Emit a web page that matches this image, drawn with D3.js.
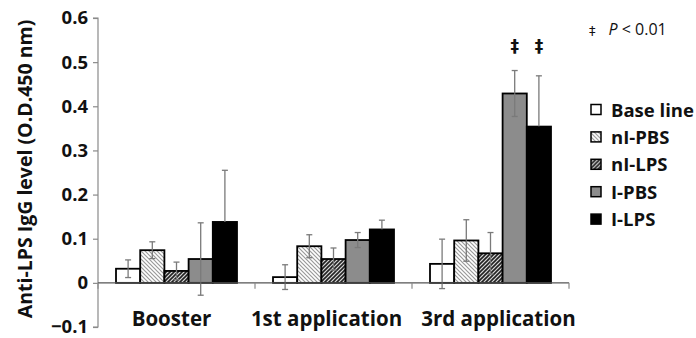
<!DOCTYPE html>
<html>
<head>
<meta charset="utf-8">
<script src="https://cdn.jsdelivr.net/npm/d3@7"></script>
<style>
  body { margin: 0; background: #fff; }
  svg { display: block; }
</style>
</head>
<body>
<div id="chart"></div>
<script>
// data
const categories = ['Booster', '1st application', '3rd application'];
const groups = ['Base line', 'nI-PBS', 'nI-LPS', 'I-PBS', 'I-LPS'];
const means = [
  [0.032, 0.074, 0.027, 0.054, 0.138],
  [0.013, 0.083, 0.054, 0.097, 0.121],
  [0.043, 0.096, 0.067, 0.429, 0.354]
];
const errors = [
  [0.020, 0.019, 0.020, 0.082, 0.117],
  [0.028, 0.026, 0.025, 0.017, 0.021],
  [0.056, 0.047, 0.047, 0.052, 0.115]
];
const yTicks = [-0.1, 0, 0.1, 0.2, 0.3, 0.4, 0.5, 0.6];
// groups flagged with ‡ (P < 0.01) in each category
const significant = [[], [], ['I-PBS', 'I-LPS']];

const W = 696, H = 338;
const font = "'Open Sans', sans-serif";
// small horizontal nudges of the category labels, as in the original figure
const labelShift = [-5, -7, 8];

const svg = d3.select('#chart').append('svg')
  .attr('width', W)
  .attr('height', H);

const defs = svg.append('defs');

// light hatch for nI-PBS
const p1 = defs.append('pattern')
  .attr('id', 'hatchLight')
  .attr('patternUnits', 'userSpaceOnUse')
  .attr('width', 4).attr('height', 4);
p1.append('rect').attr('width', 4).attr('height', 4).attr('fill', '#fff');
p1.append('path')
  .attr('d', 'M0,0 L4,4 M-1,3 L1,5 M3,-1 L5,1')
  .attr('stroke', '#9a9a9a').attr('stroke-width', 1.2);

// dark hatch for nI-LPS
const p2 = defs.append('pattern')
  .attr('id', 'hatchDark')
  .attr('patternUnits', 'userSpaceOnUse')
  .attr('width', 4).attr('height', 4);
p2.append('rect').attr('width', 4).attr('height', 4).attr('fill', '#d8d8d8');
p2.append('path')
  .attr('d', 'M0,4 L4,0 M-1,1 L1,-1 M3,5 L5,3')
  .attr('stroke', '#222').attr('stroke-width', 1.6);

const fills = {
  'Base line': '#fff',
  'nI-PBS': 'url(#hatchLight)',
  'nI-LPS': 'url(#hatchDark)',
  'I-PBS': '#8c8c8c',
  'I-LPS': '#000'
};

const x0 = d3.scaleBand()
  .domain(categories)
  .range([98, 569]);

const x1 = d3.scaleBand()
  .domain(groups)
  .range([0, x0.bandwidth()])
  .paddingOuter(0.744);

const y = d3.scaleLinear()
  .domain([-0.1, 0.6])
  .range([327, 18]);

// y axis
const yAxis = d3.axisLeft(y)
  .tickValues(yTicks)
  .tickSize(5)
  .tickPadding(5)
  .tickFormat(d => d < 0 ? '\u22120.1' : (d === 0 ? '0' : d3.format('.1f')(d)));

const gy = svg.append('g')
  .attr('transform', 'translate(98,0)')
  .call(yAxis);
gy.select('.domain').attr('stroke', '#8a8a8a').attr('stroke-width', 1.2)
  .attr('d', 'M-5,' + y(-0.1) + 'H0V' + y(0.6) + 'H-5');
gy.selectAll('.tick line').attr('stroke', '#8a8a8a').attr('stroke-width', 1.2);
gy.selectAll('.tick text')
  .attr('fill', '#111')
  .style('font-family', font)
  .style('font-weight', 'bold')
  .style('font-size', '18.5px');

// y title
svg.append('text')
  .attr('transform', 'translate(32,169) rotate(-90)')
  .attr('text-anchor', 'middle')
  .style('font-family', font)
  .style('font-weight', 'bold')
  .style('font-size', '19.5px')
  .attr('fill', '#111')
  .text('Anti-LPS IgG level (O.D.450 nm)');

// bars
const gGroups = svg.append('g').selectAll('g')
  .data(categories)
  .enter().append('g')
  .attr('transform', d => 'translate(' + x0(d) + ',0)');

gGroups.selectAll('rect')
  .data((c, i) => groups.map((g, j) => ({ g: g, v: means[i][j] })))
  .enter().append('rect')
  .attr('x', d => x1(d.g))
  .attr('width', x1.bandwidth())
  .attr('y', d => Math.min(y(d.v), y(0)))
  .attr('height', d => Math.abs(y(0) - y(d.v)))
  .attr('fill', d => fills[d.g])
  .attr('stroke', '#000')
  .attr('stroke-width', 1.8);

// x axis at zero, ticks pointing down
const xAxisLine = svg.append('g').attr('transform', 'translate(0,' + y(0) + ')');
xAxisLine.append('line')
  .attr('x1', 98).attr('x2', 569)
  .attr('stroke', '#555').attr('stroke-width', 1.2);
xAxisLine.selectAll('.xt')
  .data(categories.concat(['end']))
  .enter().append('line')
  .attr('class', 'xt')
  .attr('x1', (d, i) => 98 + i * x0.step())
  .attr('x2', (d, i) => 98 + i * x0.step())
  .attr('y1', 0).attr('y2', 6)
  .attr('stroke', '#8a8a8a').attr('stroke-width', 1.2);

// error bars
const errColor = '#7a7a7a';
const errG = gGroups.selectAll('g.err')
  .data((c, i) => groups.map((g, j) => ({ g: g, v: means[i][j], e: errors[i][j] })))
  .enter().append('g')
  .attr('class', 'err')
  .attr('transform', d => 'translate(' + (x1(d.g) + x1.bandwidth() / 2) + ',0)');

errG.append('line')
  .attr('y1', d => y(d.v))
  .attr('y2', d => y(d.v + d.e))
  .attr('stroke', errColor).attr('stroke-width', 1.3);
errG.append('line')
  .attr('y1', d => y(d.v))
  .attr('y2', d => y(d.v - d.e))
  .attr('stroke', d => d.g === 'I-LPS' ? '#000' : errColor).attr('stroke-width', 1.3);
errG.append('line')
  .attr('x1', -3).attr('x2', 3)
  .attr('y1', d => y(d.v + d.e)).attr('y2', d => y(d.v + d.e))
  .attr('stroke', errColor).attr('stroke-width', 1.3);
errG.append('line')
  .attr('x1', -3).attr('x2', 3)
  .attr('y1', d => y(d.v - d.e)).attr('y2', d => y(d.v - d.e))
  .attr('stroke', d => d.g === 'I-LPS' ? '#000' : errColor).attr('stroke-width', 1.3);

// significance marks
gGroups.each(function(c, i) {
  d3.select(this).selectAll('text.sig')
    .data(significant[i])
    .enter().append('text')
    .attr('class', 'sig')
    .attr('x', g => x1(g) + x1.bandwidth() / 2)
    .attr('y', 52)
    .attr('text-anchor', 'middle')
    .style('font-family', "'DejaVu Sans', sans-serif")
    .style('font-weight', 'bold')
    .style('font-size', '17px')
    .attr('fill', '#111')
    .text('\u2021');
});

// category labels
svg.append('g').selectAll('text')
  .data(categories)
  .enter().append('text')
  .attr('x', (d, i) => x0(d) + x0.bandwidth() / 2 + labelShift[i])
  .attr('y', 326)
  .attr('text-anchor', 'middle')
  .style('font-family', font)
  .style('font-weight', 'bold')
  .style('font-size', '20.5px')
  .attr('fill', '#111')
  .text(d => d);

// P-value note
const note = svg.append('text')
  .attr('x', 589).attr('y', 35)
  .style('font-family', font)
  .style('font-size', '16px')
  .attr('fill', '#111');
note.append('tspan').style('font-family', "'DejaVu Sans', sans-serif").style('font-size', '13px').text('\u2021');
note.append('tspan').attr('dx', 13).style('font-style', 'italic').text('P');
note.append('tspan').text(' < 0.01');

// legend
const legend = svg.append('g').selectAll('g')
  .data(groups)
  .enter().append('g')
  .attr('transform', (d, i) => 'translate(591,' + (109.5 + i * 27.4) + ')');

legend.append('rect')
  .attr('x', 0).attr('y', -5)
  .attr('width', 10).attr('height', 10)
  .attr('fill', d => fills[d])
  .attr('stroke', '#000').attr('stroke-width', 1.5);

legend.append('text')
  .attr('x', 20).attr('y', 7)
  .style('font-family', font)
  .style('font-weight', 'bold')
  .style('font-size', '18.5px')
  .attr('fill', '#111')
  .text(d => d);
</script>
</body>
</html>
